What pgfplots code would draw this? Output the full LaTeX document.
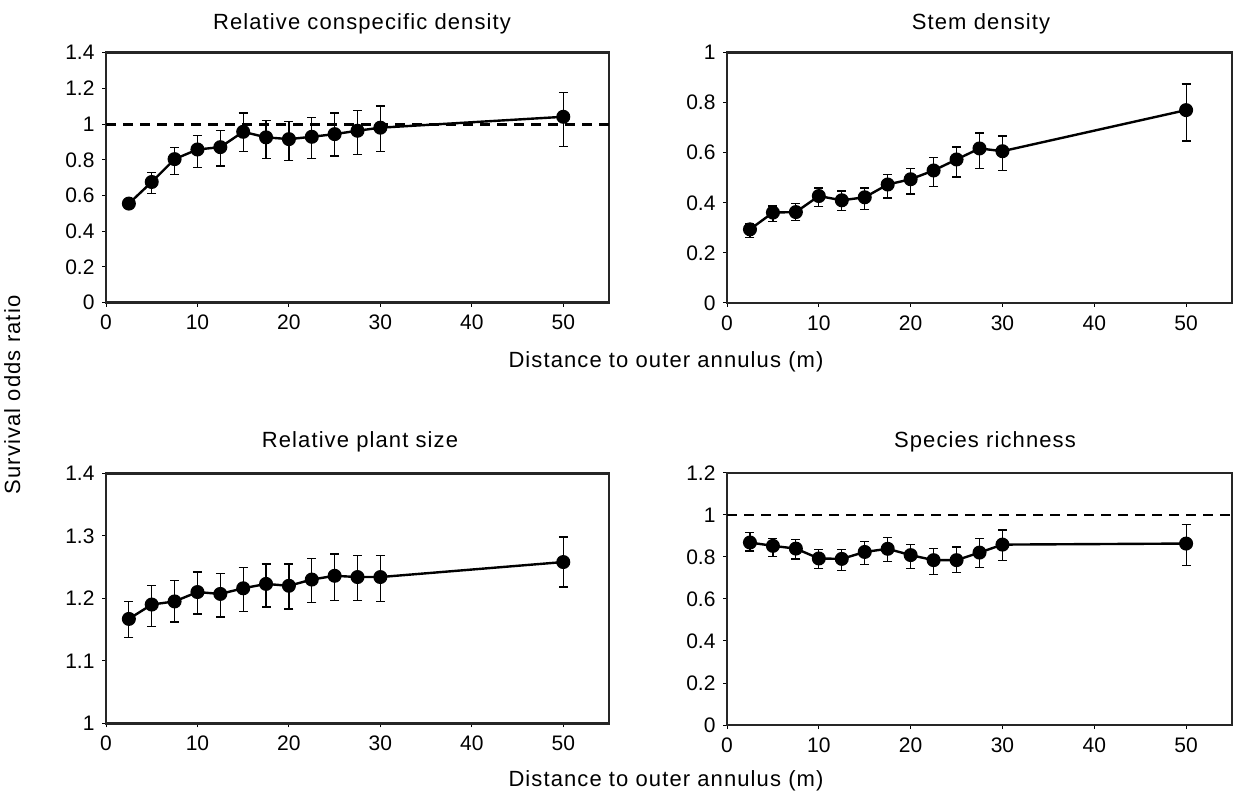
\documentclass[border=0pt]{standalone}
\usepackage{fontspec}
\setmainfont{Liberation Sans}
\newfontfamily\lbl[LetterSpace=5]{Liberation Sans}
\usepackage{pgfplots}
\usepackage{pgfplotstable}
\pgfplotsset{compat=1.18}

\pgfplotstableread{
x y ep em
2.5 0.555 0.025 0.025
5 0.676 0.051 0.065
7.5 0.804 0.063 0.085
10 0.858 0.079 0.099
12.5 0.871 0.092 0.105
15 0.957 0.105 0.112
17.5 0.926 0.095 0.120
20 0.916 0.098 0.118
22.5 0.929 0.109 0.123
25 0.944 0.118 0.123
27.5 0.963 0.114 0.135
30 0.980 0.122 0.135
50 1.041 0.135 0.167
}\tabA
\pgfplotstableread{
x y ep em
2.5 0.294 0.023 0.031
5 0.361 0.026 0.035
7.5 0.363 0.034 0.033
10 0.427 0.032 0.041
12.5 0.410 0.037 0.040
15 0.422 0.037 0.048
17.5 0.473 0.040 0.054
20 0.494 0.043 0.059
22.5 0.529 0.052 0.063
25 0.573 0.050 0.070
27.5 0.617 0.062 0.080
30 0.606 0.061 0.076
50 0.770 0.104 0.123
}\tabB
\pgfplotstableread{
x y ep em
2.5 1.167 0.028 0.030
5 1.190 0.030 0.035
7.5 1.195 0.033 0.033
10 1.210 0.032 0.035
12.5 1.207 0.033 0.037
15 1.216 0.033 0.037
17.5 1.223 0.032 0.037
20 1.220 0.035 0.037
22.5 1.230 0.034 0.037
25 1.236 0.035 0.039
27.5 1.234 0.035 0.037
30 1.234 0.035 0.039
50 1.258 0.040 0.040
}\tabC
\pgfplotstableread{
x y ep em
2.5 0.869 0.046 0.040
5 0.853 0.035 0.049
7.5 0.840 0.043 0.050
10 0.793 0.043 0.049
12.5 0.791 0.045 0.054
15 0.824 0.051 0.060
17.5 0.839 0.055 0.062
20 0.809 0.052 0.064
22.5 0.785 0.057 0.067
25 0.785 0.063 0.060
27.5 0.821 0.067 0.070
30 0.859 0.070 0.076
50 0.864 0.089 0.106
}\tabD

\pgfplotsset{
  panel/.style={
    scale only axis,
    anchor=south west,
    xmin=0, xmax=55,
    xtick={0,10,20,30,40,50},
    axis line style={line width=2.8pt, black!85},
    tick style={line width=1pt, black},
    tick align=outside,
    major tick length=4pt,
    xtick pos=bottom, ytick pos=left,
    ticklabel style={font=\fontsize{21}{24}\selectfont},
    yticklabel style={xshift=-4pt},
    xticklabel style={yshift=-5pt},
    /pgf/number format/assume math mode=true,
    clip=false,
  },
  ser/.style={
    black, line width=2.4pt, mark=*, mark size=5.8pt,
    mark options={solid, fill=black},
    error bars/.cd, y dir=both, y explicit,
    error bar style={line width=1.2pt, black},
    error mark options={rotate=90, mark size=4.5pt, line width=1.2pt, black},
  },
  dash1/.style={black, line width=2.8pt, dash pattern=on 10pt off 7pt, forget plot},
}

\begin{document}
\begin{tikzpicture}
\path[use as bounding box] (0,0) rectangle (1233pt,795pt);

% Top left
\begin{axis}[panel, at={(106pt,492.3pt)}, width=503pt, height=250pt,
  ymin=0, ymax=1.4, ytick={0,0.2,0.4,0.6,0.8,1,1.2,1.4}]
\addplot[dash1] coordinates {(0,1) (55,1)};
\addplot[ser] table[x=x, y=y, y error plus=ep, y error minus=em] {\tabA};
\end{axis}

% Top right
\begin{axis}[panel, at={(727pt,492pt)}, width=505pt, height=250.5pt,
  ymin=0, ymax=1, ytick={0,0.2,0.4,0.6,0.8,1}]
\addplot[ser] table[x=x, y=y, y error plus=ep, y error minus=em] {\tabB};
\end{axis}

% Bottom left
\begin{axis}[panel, at={(106pt,71.7pt)}, width=503pt, height=250pt,
  ymin=1, ymax=1.4, ytick={1,1.1,1.2,1.3,1.4}]
\addplot[ser] table[x=x, y=y, y error plus=ep, y error minus=em] {\tabC};
\end{axis}

% Bottom right
\begin{axis}[panel, at={(727pt,70pt)}, width=505pt, height=252pt,
  ymin=0, ymax=1.2, ytick={0,0.2,0.4,0.6,0.8,1,1.2}]
\addplot[dash1] coordinates {(0,1) (55,1)};
\addplot[ser] table[x=x, y=y, y error plus=ep, y error minus=em] {\tabD};
\end{axis}

% Titles and labels
\node[anchor=base, font=\lbl\fontsize{22}{25}\selectfont] at (362pt,765pt) {Relative conspecific density};
\node[anchor=base, font=\lbl\fontsize{22}{25}\selectfont] at (981pt,765pt) {Stem density};
\node[anchor=base, font=\lbl\fontsize{22}{25}\selectfont] at (360pt,347pt) {Relative plant size};
\node[anchor=base, font=\lbl\fontsize{22}{25}\selectfont] at (985pt,347pt) {Species richness};
\node[anchor=base, font=\lbl\fontsize{22}{25}\selectfont] at (666pt,427pt) {Distance to outer annulus (m)};
\node[anchor=base, font=\lbl\fontsize{22}{25}\selectfont] at (666pt,9pt) {Distance to outer annulus (m)};
\node[anchor=base, rotate=90, font=\lbl\fontsize{22}{25}\selectfont] at (20pt,400pt) {Survival odds ratio};
\end{tikzpicture}
\end{document}
